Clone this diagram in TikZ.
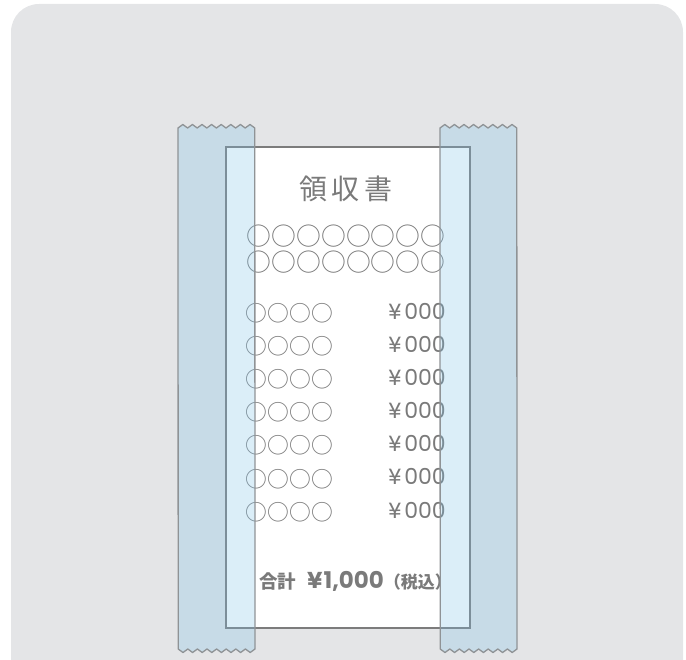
\documentclass[tikz,border=0pt]{standalone}
\usepackage{fontspec}
\newfontfamily\jp{Noto Sans CJK JP}
\newfontfamily\num{Poppins}
\definecolor{bggray}{HTML}{E4E5E7}
\definecolor{tapeblue}{RGB}{124,193,232}
\definecolor{txtgray}{HTML}{7A7A7A}
\definecolor{edgegray}{HTML}{7C7C7C}
\definecolor{tapeedge}{HTML}{8F9396}
\tikzset{
  tape/.style={fill=tapeblue,fill opacity=0.27,draw=tapeedge,draw opacity=1,line width=1.3pt,line join=round},
  receipt/.style={fill=white,draw=edgegray,line width=1.6pt},
  txt/.style={inner sep=0pt,text=txtgray,font=\jp},
}
\begin{document}
\begin{tikzpicture}[x=1pt,y=-1pt]
\useasboundingbox (0,0) rectangle (686,660);
\begin{scope}
\clip (0,0) rectangle (686,660);
\fill[bggray,rounded corners=28pt] (11,700) -- (11,4) -- (683,4) -- (683,700) -- cycle;
\end{scope}
% receipt
\path[receipt] (226,147) rectangle (470,628);
\node[txt,font=\jp\fontsize{28}{30}\selectfont] (title) at (346,189) {領\hspace{5pt}収\hspace{5pt}書};
\node[txt,font=\jp\fontsize{24.8}{26}\selectfont] (r1) at (346,236) {○○○○○○○○};
\node[txt,font=\jp\fontsize{24.8}{26}\selectfont] (r2) at (346,262) {○○○○○○○○};
\foreach \i in {0,...,6}{
  \node[txt,anchor=west,font=\jp\fontsize{21.8}{23}\selectfont] (item\i) at (245.5,313+33.17*\i) {○○○○};
  \node[txt,anchor=east,font=\num\fontsize{22}{24}\selectfont] (price\i) at (446,311+33.17*\i) {¥\hspace{3pt}000};
}
\node[txt,font=\jp\bfseries,anchor=west] (total) at (259,581) {\fontsize{18.5}{20}\selectfont 合計\hspace{11pt}{\num\bfseries\fontsize{23}{24}\selectfont ¥\hspace{1pt}1,000}\fontsize{17}{18}\selectfont （税込）};
% tapes
\path[tape] (178,128) \foreach \i in {1,...,8}{ -- ++(4.8,-3.5) -- ++(4.8,3.5) } -- (255,649) \foreach \i in {1,...,8}{ -- ++(-4.8,3.5) -- ++(-4.8,-3.5) } -- cycle;
\path[tape] (440,128) \foreach \i in {1,...,8}{ -- ++(4.8,-3.5) -- ++(4.8,3.5) } -- (517,649) \foreach \i in {1,...,8}{ -- ++(-4.8,3.5) -- ++(-4.8,-3.5) } -- cycle;
\end{tikzpicture}
\end{document}
